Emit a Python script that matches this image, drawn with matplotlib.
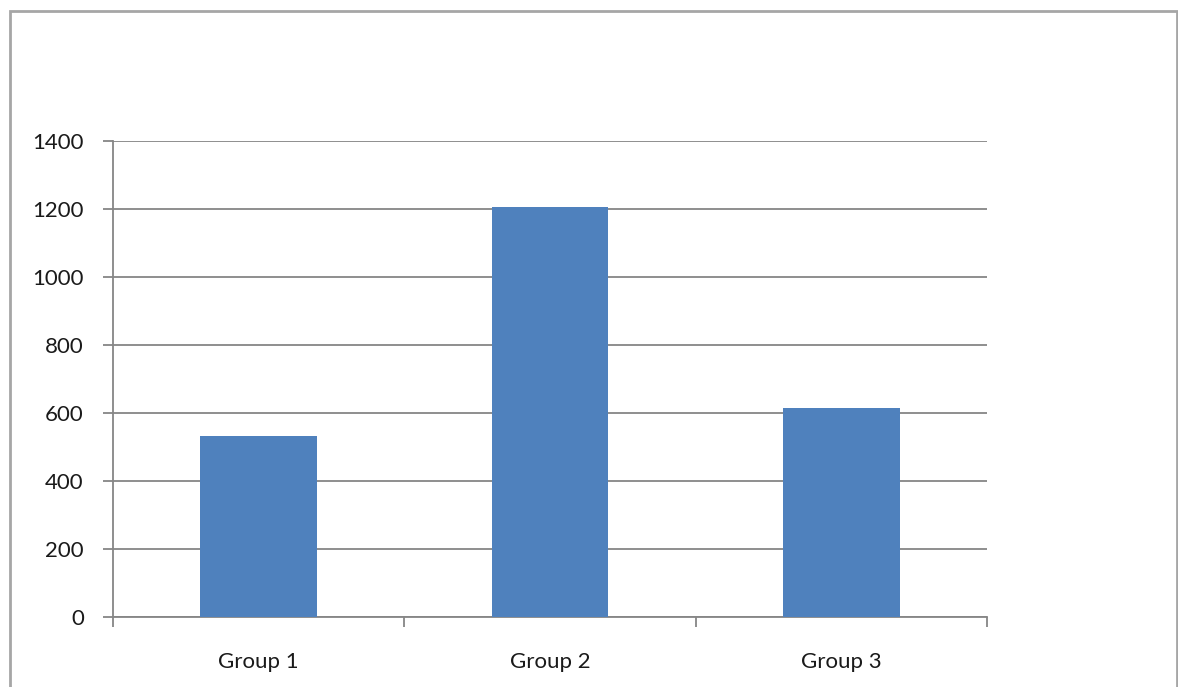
import matplotlib.pyplot as plt
import matplotlib.patches as patches
import numpy as np

# data
groups = ["Group 1", "Group 2", "Group 3"]
values = [532, 1205, 616]
yticks = [0, 200, 400, 600, 800, 1000, 1200, 1400]

plt.rcParams['font.family'] = ['Lato', 'DejaVu Sans']

fig = plt.figure(figsize=(11.78, 6.87), dpi=100)
ax = fig.add_axes([113/1178, 70/687, (987-113)/1178, (617-141)/687])

x = np.arange(len(groups))
ax.bar(x, values, width=0.4, color="#4F81BD", zorder=3)

ax.set_xlim(-0.5, len(groups) - 0.5)
ax.set_ylim(0, 1400)
ax.set_yticks(yticks)
ax.yaxis.grid(True, color="#868686", linewidth=1.3, zorder=0)

# category labels centered, tick marks at the boundaries
ax.set_xticks(x)
ax.set_xticklabels(groups)
ax.set_xticks(np.arange(-0.5, len(groups), 1.0), minor=True)
ax.tick_params(axis="x", which="major", length=0, pad=25, labelsize=16, labelcolor="#1a1a1a")
ax.tick_params(axis="x", which="minor", length=7, width=1.3, color="#868686", direction="out")
ax.tick_params(axis="y", length=7, width=1.3, color="#868686", pad=14, labelsize=16, labelcolor="#1a1a1a")

for s in ["top", "right"]:
    ax.spines[s].set_visible(False)
for s in ["left", "bottom"]:
    ax.spines[s].set_color("#868686")
    ax.spines[s].set_linewidth(1.3)

# outer chart border
fig.patches.append(patches.Rectangle((9.5/1178, -0.1), (1176.5-9.5)/1178, 1.1 - 11.5/687,
                                     transform=fig.transFigure, fill=False,
                                     edgecolor="#a6a6a6", linewidth=2))

fig.savefig("out.png", dpi=100)
